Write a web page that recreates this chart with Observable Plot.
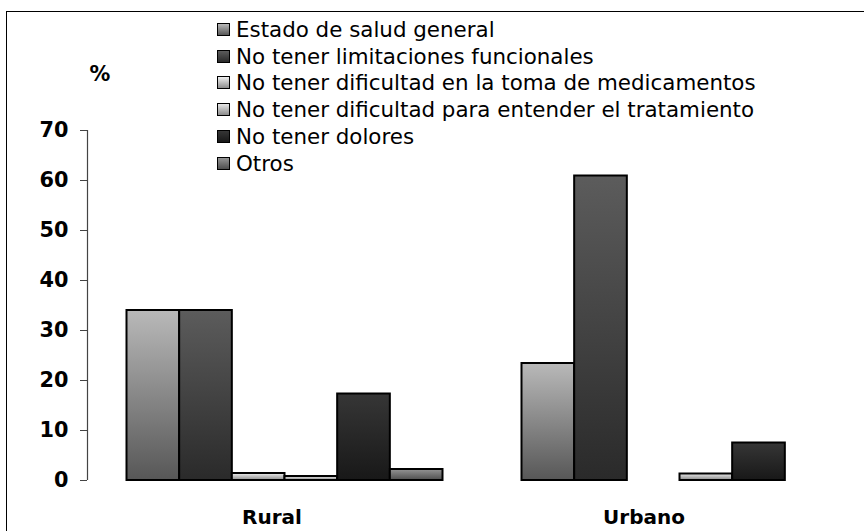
<!DOCTYPE html>
<html><head><meta charset="utf-8">
<script src="https://cdn.jsdelivr.net/npm/d3@7"></script>
<script src="https://cdn.jsdelivr.net/npm/@observablehq/plot@0.6"></script>
<style>
body{margin:0;background:#fff;}
#wrap{position:relative;width:864px;height:531px;overflow:hidden;font-family:"DejaVu Sans",Verdana,sans-serif;background:#fff;}
#chart{position:absolute;left:0;top:0;}
#frame{position:absolute;left:6px;top:11px;width:920px;height:620px;border:1.6px solid #000;box-sizing:border-box;pointer-events:none;}
#legend{position:absolute;left:217px;top:16px;}
.row{display:flex;align-items:center;height:26.8px;font-size:21.4px;color:#000;white-space:nowrap;}
.sw{width:11px;height:11px;border:1.5px solid #000;margin-right:6px;}
</style></head><body>
<div id="wrap"><div id="chart"></div><div id="legend"></div><div id="frame"></div></div>
<script>
const categories = ["Rural", "Urbano"];
const series = [
  "Estado de salud general",
  "No tener limitaciones funcionales",
  "No tener dificultad en la toma de medicamentos",
  "No tener dificultad para entender el tratamiento",
  "No tener dolores",
  "Otros"
];
const rural = [34, 34, 1.4, 0.8, 17.3, 2.2];
const urbano = [23.4, 60.9, null, 1.3, 7.5, null];
const yTicks = [0, 10, 20, 30, 40, 50, 60, 70];

// styles
const gradStops = [
  ["#b9b9b9", "#575757"],
  ["#5c5c5c", "#2a2a2a"],
  ["#f0f0f0", "#8c8c8c"],
  ["#e8e8e8", "#8a8a8a"],
  ["#363636", "#181818"],
  ["#959595", "#4e4e4e"]
];

const values = [rural, urbano];
const rows = [];
categories.forEach((c, gi) => series.forEach((s, si) => {
  const v = values[gi][si];
  if (v != null && v > 0) rows.push({cat: c, gi, si, s, v});
}));

const slot = 7.5, pad = 0.75;

const chart = Plot.plot({
  width: 864, height: 531,
  marginLeft: 87, marginTop: 130, marginBottom: 51, marginRight: 0,
  style: {fontFamily: "'DejaVu Sans', Verdana, sans-serif", background: "transparent", color: "#000"},
  x: {type: "linear", domain: [0, 15], range: [87, 877], axis: null},
  y: {domain: [0, 70], axis: null},
  marks: [
    Plot.rectY(rows, {
      x1: d => d.gi * slot + pad + d.si,
      x2: d => d.gi * slot + pad + d.si + 1,
      y1: 0, y2: "v",
      fill: d => `url(#grad${d.si})`,
      stroke: "#000", strokeWidth: 2
    }),
    Plot.ruleX([0], {y1: 0, y2: 70, stroke: "#444", strokeWidth: 1.2}),
    Plot.axisY({ticks: yTicks, tickSize: 7, tickPadding: 12, fontSize: 20.8, fontWeight: "bold", label: null, stroke: "#444"}),
    Plot.text(["%"], {frameAnchor: "top-left", lineAnchor: "middle", dx: 2, dy: -56, fontSize: 20.8, fontWeight: "bold", fill: "#000"}),
    Plot.text([categories[0]], {x: 0 * slot + slot / 2, frameAnchor: "bottom", lineAnchor: "middle", dy: 37, dx: -13, fontSize: 20, fontWeight: "bold", fill: "#000"}),
    Plot.text([categories[1]], {x: 1 * slot + slot / 2, frameAnchor: "bottom", lineAnchor: "middle", dy: 37, dx: -36, fontSize: 20, fontWeight: "bold", fill: "#000"})
  ]
});

const svg = d3.select(chart);
const defs = svg.insert("defs", ":first-child");
gradStops.forEach((g, i) => {
  const lg = defs.append("linearGradient").attr("id", `grad${i}`).attr("x1", 0).attr("y1", 0).attr("x2", 0).attr("y2", 1);
  lg.append("stop").attr("offset", "0%").attr("stop-color", g[0]);
  lg.append("stop").attr("offset", "100%").attr("stop-color", g[1]);
});
document.getElementById("chart").appendChild(chart);

const legend = d3.select("#legend");
series.forEach((s, i) => {
  const r = legend.append("div").attr("class", "row");
  r.append("div").attr("class", "sw").style("background", `linear-gradient(${gradStops[i][0]}, ${gradStops[i][1]})`);
  r.append("span").text(s);
});
</script>
</body></html>
